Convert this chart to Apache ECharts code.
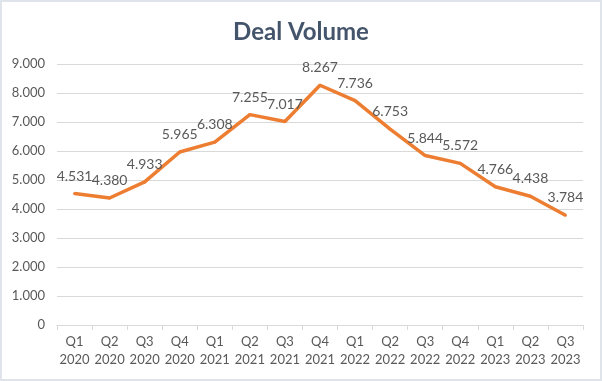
<!DOCTYPE html>
<html><head><meta charset="utf-8">
<script src="https://cdn.jsdelivr.net/npm/echarts@6/dist/echarts.min.js"></script>
<style>
html,body{margin:0;padding:0;background:#fff;}
#c{width:602px;height:381px;box-sizing:border-box;border:2px solid #dfe3ea;}
</style></head>
<body><div id="c"></div>
<script>
var categories = ["Q1\n2020","Q2\n2020","Q3\n2020","Q4\n2020","Q1\n2021","Q2\n2021","Q3\n2021","Q4\n2021","Q1\n2022","Q2\n2022","Q3\n2022","Q4\n2022","Q1\n2023","Q2\n2023","Q3\n2023"];
var dealVolume = [4531,4380,4933,5965,6308,7255,7017,8267,7736,6753,5844,5572,4766,4438,3784];
var titleText = "Deal Volume";

function fmt(v){
  var s = String(Math.round(v));
  return s.replace(/\B(?=(\d{3})+(?!\d))/g, ".");
}
var chart = echarts.init(document.getElementById('c'));
chart.setOption({
  animation:false,
  title:{text:titleText,left:'center',top:13,textStyle:{fontFamily:'Lato',fontSize:24,fontWeight:'bold',color:'#44546A'}},
  grid:{left:55,right:17,top:62,bottom:54},
  xAxis:{type:'category',data:categories,boundaryGap:true,
    axisLine:{lineStyle:{color:'#d9d9d9',width:1}},
    axisTick:{show:true,length:5,lineStyle:{color:'#d9d9d9'}},
    axisLabel:{color:'#595959',fontFamily:'Lato',fontSize:13,lineHeight:18,margin:8,interval:0}},
  yAxis:{type:'value',min:0,max:9000,interval:1000,
    axisLine:{show:false},axisTick:{show:false},
    splitLine:{lineStyle:{color:'#d9d9d9',width:1}},
    axisLabel:{color:'#595959',fontFamily:'Lato',fontSize:13,margin:12,formatter:fmt}},
  series:[{type:'line',data:dealVolume,showSymbol:true,symbol:'circle',symbolSize:3,
    lineStyle:{color:'#ED7D31',width:3.5},itemStyle:{color:'#ED7D31',borderWidth:0},
    label:{show:true,position:'top',distance:9,color:'#595959',fontFamily:'Lato',fontSize:14,
      formatter:function(p){return fmt(p.value);}}}]
});
</script></body></html>
